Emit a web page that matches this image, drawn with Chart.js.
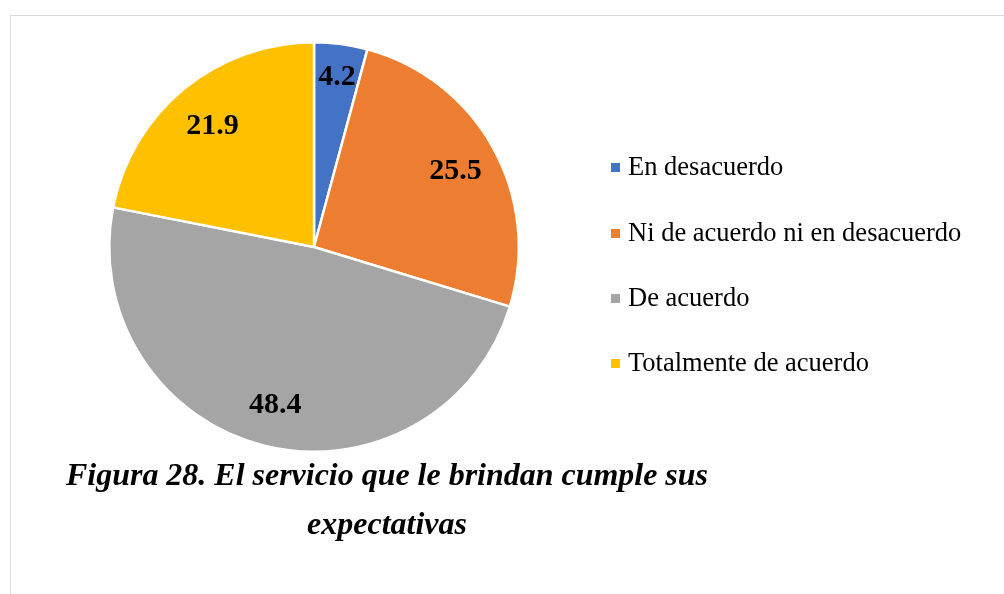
<!DOCTYPE html>
<html>
<head>
<meta charset="utf-8">
<script src="https://cdn.jsdelivr.net/npm/chart.js@4"></script>
<style>
  html, body { margin: 0; padding: 0; background: #fff; }
  #wrap { width: 1004px; height: 594px; }
</style>
</head>
<body>
<div id="wrap"><canvas id="pieChart" width="1004" height="594"></canvas></div>
<script>
const labels = ["En desacuerdo", "Ni de acuerdo ni en desacuerdo", "De acuerdo", "Totalmente de acuerdo"];
const values = [4.2, 25.5, 48.4, 21.9];
const colors = ["#4472C4", "#ED7D31", "#A5A5A5", "#FFC000"];
const captionLines = ["Figura 28. El servicio que le brindan cumple sus", "expectativas"];
// how far out each value label sits (fraction of radius)
const labelRadius = [0.85, 0.79, 0.78, 0.78];

// frame, value labels, legend and caption
const decor = {
  id: "decor",
  beforeDraw(chart) {
    const c = chart.ctx;
    c.save();
    c.strokeStyle = "#d9d9d9";
    c.lineWidth = 1;
    c.strokeRect(10.5, 15.5, 1100, 700);
    c.restore();
  },
  afterDraw(chart) {
    const c = chart.ctx;
    const meta = chart.getDatasetMeta(0);
    c.save();
    c.fillStyle = "#000";
    c.textAlign = "center";
    c.textBaseline = "middle";
    c.font = "bold 30px 'Liberation Serif'";
    meta.data.forEach((arc, i) => {
      const p = arc.getProps(["x", "y", "startAngle", "endAngle", "outerRadius"], true);
      const mid = (p.startAngle + p.endAngle) / 2;
      const r = p.outerRadius * labelRadius[i];
      c.fillText(values[i], p.x + Math.cos(mid) * r, p.y + Math.sin(mid) * r + 3);
    });

    // legend
    c.textAlign = "left";
    c.font = "26.5px 'Liberation Serif'";
    const rowY = [168, 234, 299, 364];
    labels.forEach((lab, i) => {
      c.fillStyle = colors[i];
      c.fillRect(611, rowY[i] - 5, 9, 9);
      c.fillStyle = "#000";
      c.fillText(lab, 628, rowY[i]);
    });

    // caption
    c.font = "italic bold 32px 'Liberation Serif'";
    c.textAlign = "center";
    c.textBaseline = "alphabetic";
    const w = c.measureText(captionLines[0]).width;
    const sx = 642 / w;
    c.translate(387, 0);
    c.scale(sx, 1);
    c.fillText(captionLines[0], 0, 485);
    c.fillText(captionLines[1], 0, 534);
    c.restore();
  }
};

new Chart(document.getElementById("pieChart").getContext("2d"), {
  type: "pie",
  data: {
    labels: labels,
    datasets: [{
      data: values,
      backgroundColor: colors,
      borderColor: "#ffffff",
      borderWidth: 2.5
    }]
  },
  options: {
    responsive: false,
    animation: false,
    layout: { padding: { left: 108, right: 484, top: 41, bottom: 141 } },
    plugins: {
      legend: { display: false },
      tooltip: { enabled: false }
    }
  },
  plugins: [decor]
});
</script>
</body>
</html>
